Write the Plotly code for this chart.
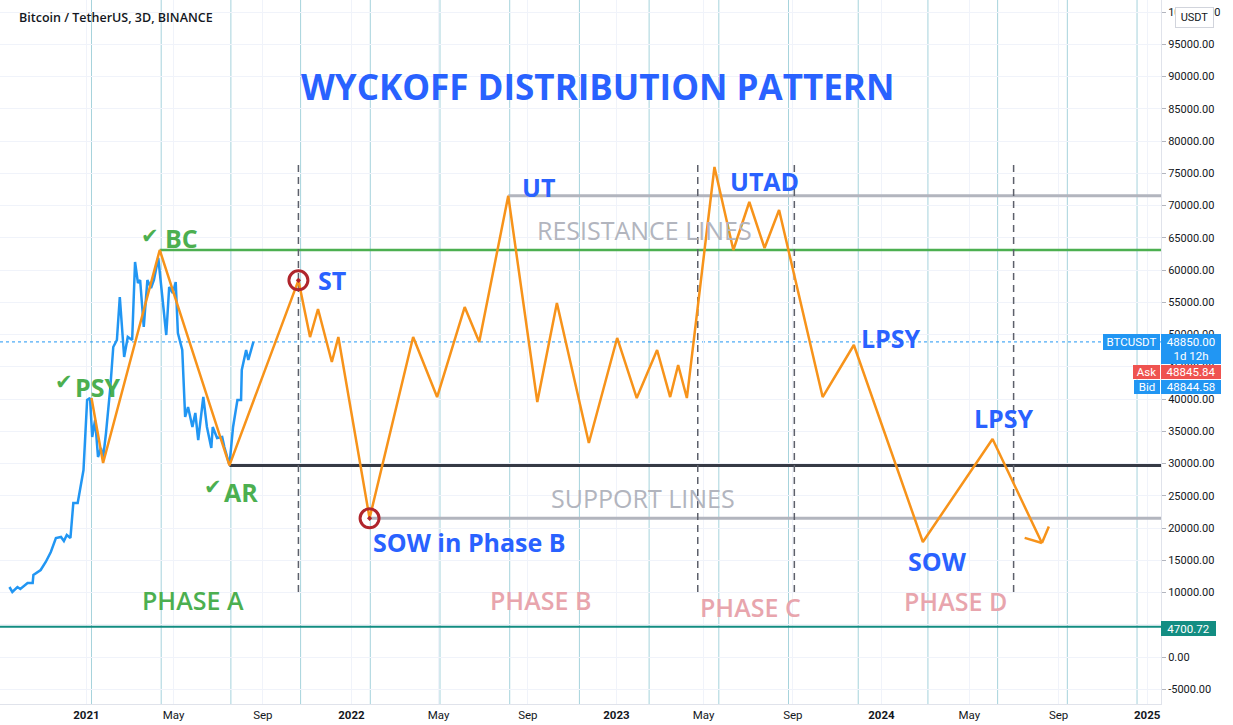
import math
import pandas as pd
import plotly.graph_objects as go

# ---------------- data ----------------
btc_dates = ['2020-09-17','2020-09-21','2020-09-28','2020-10-02','2020-10-12','2020-10-19','2020-10-20',
             '2020-10-30','2020-11-06','2020-11-13','2020-11-20','2020-11-27','2020-12-01','2020-12-05',
             '2020-12-10','2020-12-14','2020-12-20','2020-12-24','2020-12-28','2021-01-02','2021-01-06',
             '2021-01-09','2021-01-13','2021-01-17','2021-01-21','2021-01-24','2021-01-28','2021-02-03',
             '2021-02-07','2021-02-12','2021-02-16','2021-02-22','2021-02-27','2021-03-05','2021-03-09',
             '2021-03-13','2021-03-16','2021-03-21','2021-03-26','2021-03-31','2021-04-04','2021-04-10',
             '2021-04-15','2021-04-21','2021-04-25','2021-04-30','2021-05-04','2021-05-07','2021-05-13',
             '2021-05-17','2021-05-21','2021-05-27','2021-05-31','2021-06-04','2021-06-11','2021-06-16',
             '2021-06-22','2021-06-24','2021-06-30','2021-07-07','2021-07-10','2021-07-17','2021-07-22',
             '2021-07-28','2021-08-02','2021-08-03','2021-08-09','2021-08-12','2021-08-19']
btc_close = [10853, 10078, 10853, 10543, 11473, 11473, 12713, 13488, 14729, 16279, 18450, 18605, 17984,
             18915, 18450, 23876, 23876, 26357, 28992, 39845, 40155, 34109, 36744, 31008, 32403, 30853,
             34729, 41860, 48062, 49147, 55814, 46512, 49612, 49147, 61240, 57984, 58450, 51163, 58450,
             57209, 58450, 61860, 56124, 49922, 57364, 56434, 58140, 50233, 47597, 37209, 38760, 35659,
             37829, 33643, 40310, 35659, 32403, 35659, 33953, 34109, 32558, 29767, 35659, 39845, 39845,
             44496, 47597, 46047, 48850]

path_dates = ['2021-01-08','2021-01-24','2021-04-12','2021-07-17','2021-10-20','2021-11-05','2021-11-16',
              '2021-12-05','2021-12-14','2022-01-26','2022-03-27','2022-04-29','2022-06-06','2022-06-26',
              '2022-08-05','2022-09-14','2022-10-11','2022-11-24','2023-01-02','2023-01-29','2023-02-26',
              '2023-03-16','2023-03-27','2023-04-08','2023-05-16','2023-06-11','2023-07-03','2023-07-24',
              '2023-08-13','2023-10-12','2023-11-24','2024-02-27','2024-06-02','2024-08-09']
path_values = [40150, 30080, 63100, 29700, 58400, 49600, 53950, 45740, 49600, 21500, 49600, 40300, 54260,
               48840, 71500, 39530, 54880, 33180, 49460, 40150, 47600, 40300, 45270, 40150, 75970, 63100,
               70540, 63400, 69300, 40300, 48370, 17830, 33800, 17670]

bc_date, bc_level = '2021-04-12', 63100
ar_date, ar_level = '2021-07-17', 29700
ut_date, ut_level = '2022-08-05', 71500
sowb_date, sowb_level = '2022-01-26', 21500
circle_dates = ['2021-10-20', '2022-01-26']
circle_values = [58400, 21500]
base_level = 4700.72
last_price, ask_price, bid_price = 48850.00, 48845.84, 48844.58

cycle_dates = ['2021-01-08','2021-04-14','2021-07-19','2021-10-23','2022-01-27','2022-05-03','2022-08-07',
               '2022-11-11','2023-02-15','2023-05-22','2023-08-26','2023-11-30','2024-03-05','2024-06-09',
               '2024-09-13','2024-12-18']
divider_dates = ['2021-10-20', '2023-04-23', '2023-09-03', '2024-07-01']
divider_top, divider_bottom = 76280, 9300

x_tickvals = ['2021-01-01','2021-05-01','2021-09-01','2022-01-01','2022-05-01','2022-09-01','2023-01-01',
              '2023-05-01','2023-09-01','2024-01-01','2024-05-01','2024-09-01','2025-01-01']
x_ticktext = ['<b>2021</b>','May','Sep','<b>2022</b>','May','Sep','<b>2023</b>','May','Sep',
              '<b>2024</b>','May','Sep','<b>2025</b>']
y_tickvals = list(range(-5000, 100001, 5000))
y_ticktext = [f"{v:.2f}" for v in y_tickvals]

# ---------------- geometry ----------------
W, H = 1233, 725
PW, PH = 1161, 704
X_RANGE = ['2020-09-04', '2025-01-20']
Y_RANGE = [-7287, 101860]
FONT = "Open Sans"
BLUE_TXT = '#2962ff'
GREEN = '#4caf50'
PINK = '#e8a5ad'
GRAY = '#b2b5be'

X0, X1 = pd.Timestamp(X_RANGE[0]), pd.Timestamp(X_RANGE[1])


def to_px(d, v):
    t = pd.Timestamp(d)
    fx = (t - X0) / (X1 - X0) * PW
    fy = (1 - (v - Y_RANGE[0]) / (Y_RANGE[1] - Y_RANGE[0])) * PH
    return fx, fy


def from_px(px, py):
    t = X0 + (X1 - X0) * (px / PW)
    v = Y_RANGE[0] + (Y_RANGE[1] - Y_RANGE[0]) * (1 - py / PH)
    return t, v


fig = go.Figure()

# cycle lines
for d in cycle_dates:
    fig.add_shape(type='line', xref='x', yref='paper', x0=d, x1=d, y0=0, y1=1,
                  line=dict(color='#a6d3dc', width=1), layer='between')

# base level + price line
fig.add_shape(type='line', xref='paper', yref='y', x0=0, x1=1, y0=base_level, y1=base_level,
              line=dict(color='#138d82', width=2), layer='above')
fig.add_shape(type='line', xref='paper', yref='y', x0=0, x1=1, y0=last_price, y1=last_price,
              line=dict(color='#2196f3', width=1, dash='dot'), layer='between')

# level lines
for d, lvl, col, w in [(bc_date, bc_level, GREEN, 2.5), (ar_date, ar_level, '#363a45', 3),
                       (ut_date, ut_level, GRAY, 3), (sowb_date, sowb_level, GRAY, 3)]:
    fig.add_trace(go.Scatter(x=[d, X_RANGE[1]], y=[lvl, lvl], mode='lines',
                             line=dict(color=col, width=w), hoverinfo='skip'))

# phase dividers
for d in divider_dates:
    fig.add_trace(go.Scatter(x=[d, d], y=[divider_top, divider_bottom], mode='lines',
                             line=dict(color='#5d606b', width=1.5, dash='7px,5px'), hoverinfo='skip'))

# BTC price
fig.add_trace(go.Scatter(x=btc_dates, y=btc_close, mode='lines',
                         line=dict(color='#2196f3', width=2.5), hoverinfo='skip'))

# schematic path
fig.add_trace(go.Scatter(x=path_dates, y=path_values, mode='lines',
                         line=dict(color='#f7931a', width=2.5), hoverinfo='skip'))

# arrow head computed from the last segment
tx, ty = to_px(path_dates[-1], path_values[-1])
sx, sy = to_px(path_dates[-2], path_values[-2])
ang = math.atan2(sy - ty, sx - tx)
arm_x, arm_y = [], []
for sgn in (-1, 1):
    a = ang + sgn * math.radians(48)
    t, v = from_px(tx + 18 * math.cos(a), ty + 18 * math.sin(a))
    arm_x += [t, path_dates[-1]]
    arm_y += [v, path_values[-1]]
    if sgn == -1:
        arm_x.append(None)
        arm_y.append(None)
fig.add_trace(go.Scatter(x=arm_x, y=arm_y, mode='lines', line=dict(color='#f7931a', width=2.5),
                         hoverinfo='skip'))

# red circles
fig.add_trace(go.Scatter(x=circle_dates, y=circle_values, mode='markers',
                         marker=dict(symbol='circle-open-dot', size=19, color='#b0252c',
                                     line=dict(width=3, color='#b0252c')), hoverinfo='skip'))


def label(text, x, y, size, color, weight='bold', family=FONT, xanchor='center'):
    fig.add_annotation(text=text, xref='paper', yref='paper', x=x / PW, y=1 - y / PH,
                       showarrow=False, xanchor=xanchor, yanchor='middle',
                       font=dict(family=family, size=size, color=color, weight=weight))


label('Bitcoin / TetherUS, 3D, BINANCE', 17, 18, 12.5, '#131722', weight=600, xanchor='left')
label('WYCKOFF DISTRIBUTION PATTERN', 597, 87, 35, BLUE_TXT)

for txt, x, y in [('BC', 181, 238), ('PSY', 97, 387), ('AR', 241, 492)]:
    label(txt, x, y, 25, GREEN)
for x, y in [(150, 236), (64, 382), (213, 487)]:
    label('✔', x, y, 21, GREEN, family='DejaVu Sans')

for txt, x, y in [('ST', 332, 280), ('SOW in Phase B', 469, 542), ('UT', 538, 187), ('UTAD', 765, 181),
                  ('LPSY', 891, 338), ('LPSY', 1004, 418), ('SOW', 937, 561)]:
    label(txt, x, y, 25, BLUE_TXT)

label('RESISTANCE LINES', 644, 230, 25, GRAY, weight='normal')
label('SUPPORT LINES', 643, 498, 25, GRAY, weight='normal')
label('PHASE A', 193, 600, 25, GREEN, weight=600)
for txt, x, y in [('PHASE B', 540, 600), ('PHASE C', 750, 607), ('PHASE D', 955, 601)]:
    label(txt, x, y, 25, PINK, weight=600)


def box(text, x0, x1, y0, y1, bg, fg='white', border=None, size=11.5):
    fig.add_annotation(text=text, xref='paper', yref='paper', x=(x0 + x1) / 2 / PW,
                       y=1 - (y0 + y1) / 2 / PH, showarrow=False, xanchor='center', yanchor='middle',
                       width=x1 - x0, height=y1 - y0, bgcolor=bg, borderpad=0,
                       bordercolor=border or bg, borderwidth=1 if border else 0,
                       font=dict(family='Roboto', size=size, color=fg))


box('USDT', 1176, 1213, 8, 27, 'white', fg='#131722', border='#d1d4dc', size=11)
box('BTCUSDT', 1103, 1160, 334, 350, '#2196f3')
box(f'{last_price:.2f}<br>1d 12h', 1161, 1221, 334, 364, '#2196f3')
box('Ask', 1133, 1160, 365, 379, '#ef5350')
box(f'{ask_price:.2f}', 1161, 1221, 365, 379, '#ef5350')
box('Bid', 1134, 1160, 380, 394, '#2196f3')
box(f'{bid_price:.2f}', 1161, 1221, 380, 394, '#2196f3')
box(f'{base_level:.2f}', 1161, 1216, 621, 636, '#138d82')

fig.update_layout(
    width=W, height=H,
    margin=dict(l=0, r=W - PW, t=0, b=H - PH, pad=0),
    plot_bgcolor='white', paper_bgcolor='white', showlegend=False,
    xaxis=dict(type='date', range=X_RANGE, tickvals=x_tickvals, ticktext=x_ticktext,
               showgrid=True, gridcolor='#f0f3fa', showline=True, linecolor='#e0e3eb',
               ticks='', zeroline=False, tickfont=dict(family='Roboto', size=11.5, color='#131722')),
    yaxis=dict(side='right', range=Y_RANGE, tickvals=y_tickvals, ticktext=y_ticktext,
               showgrid=True, gridcolor='#f0f3fa', showline=True, linecolor='#e0e3eb',
               ticks='outside', ticklen=4, tickcolor='#b2b5be', zeroline=False,
               tickfont=dict(family='Roboto', size=11, color='#131722')),
)

fig.write_html("out.html", config={'displayModeBar': False},
               post_script="document.body.style.margin='0';document.body.style.padding='0';")
